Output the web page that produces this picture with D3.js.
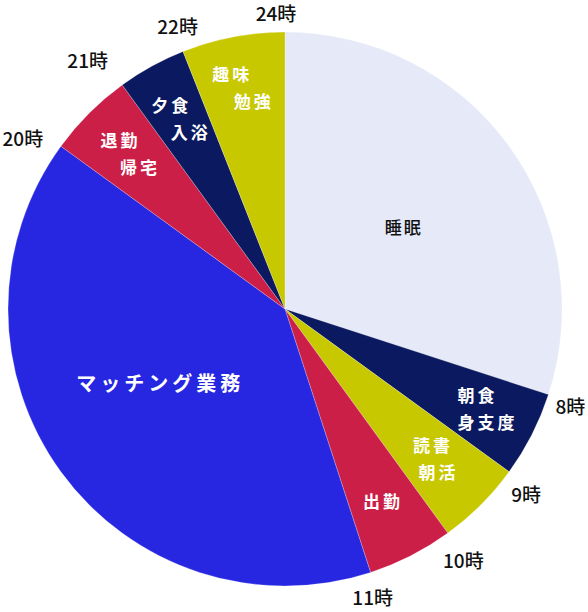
<!DOCTYPE html>
<html lang="ja">
<head>
<meta charset="utf-8">
<script src="https://cdn.jsdelivr.net/npm/d3@7"></script>
<style>
  body { margin: 0; background: #fff; }
  text { font-family: "Noto Sans CJK JP", "Noto Sans", sans-serif; }
</style>
</head>
<body>
<div id="chart"></div>
<script>
// one day, split into activities (clockwise from midnight)
const activities = [['睡眠'], ['朝食', '身支度'], ['読書', '朝活'], ['出勤'],
    ['マッチング業務'], ['退勤', '帰宅'], ['夕食', '入浴'], ['趣味', '勉強']];
const weights = [6, 1, 1, 1, 8, 1, 0.8, 1.2];
const endLabels = ['8時', '9時', '10時', '11時', '20時', '21時', '22時', '24時'];
const colors = ['#e6e9f8', '#0b1a60', '#c8c800', '#cc1f48', '#2727e2', '#cc1f48', '#0b1a60', '#c8c800'];

const width = 588;
const height = 612;
const cx = 285, cy = 309;
const radius = 277;

// label layout: radial position (fraction of radius), angle shift (deg) and shift between lines
const labelRadius = [0.52, 0.8, 0.77, 0.78, 0.525, 0.79, 0.78, 0.81];
const labelTurn = [1.5, 0, 0, 0, 5, 0, 0, 0];
const lineStagger = [0, 10, 5.5, 0, 0, 19.5, 19.5, 21.5];
// nudges for the hour labels around the slice ends
const hourNudge = [[0, 5], [-1.5, 9.5], [2, 9], [-5, 4], [-19.5, 6], [-21, -5], [3, -3], [-9, 5]];

const svg = d3.select('#chart')
    .append('svg')
    .attr('width', width)
    .attr('height', height);

const g = svg.append('g')
    .attr('transform', `translate(${cx},${cy})`);

const pie = d3.pie()
    .sort(null)
    .value(d => d);

const slices = pie(weights);

const arc = d3.arc()
    .innerRadius(0)
    .outerRadius(radius);

g.selectAll('path')
    .data(slices)
    .enter().append('path')
    .attr('d', arc)
    .attr('fill', (d, i) => colors[i])
    .attr('stroke', '#fff')
    .attr('stroke-opacity', 0.4)
    .attr('stroke-width', 0.6);

// labels inside the slices
const inner = g.selectAll('g.inner')
    .data(slices)
    .enter().append('g')
    .attr('class', 'inner')
    .attr('transform', (d, i) => {
        const a = (d.startAngle + d.endAngle) / 2 + labelTurn[i] * Math.PI / 180;
        const r = radius * labelRadius[i];
        return `translate(${Math.sin(a) * r},${-Math.cos(a) * r})`;
    });

inner.each(function (d, i) {
    const lines = activities[i];
    const n = lines.length;
    const big = i === 4;
    d3.select(this).selectAll('text')
        .data(lines)
        .enter().append('text')
        .attr('x', (t, j) => n > 1 ? (j - (n - 1) / 2) * lineStagger[i] : 0)
        .attr('y', (t, j) => (j - (n - 1) / 2) * 27)
        .attr('dy', '0.36em')
        .attr('text-anchor', 'middle')
        .style('font-size', big ? '20px' : '17px')
        .style('font-weight', i === 0 ? 500 : 700)
        .style('letter-spacing', big ? '4px' : (i === 0 ? '2px' : '3px'))
        .style('fill', i === 0 ? '#111' : '#fff')
        .text(t => t);
});

// hour labels at the end of each slice
const outerR = 300;
g.selectAll('text.hour')
    .data(slices)
    .enter().append('text')
    .attr('class', 'hour')
    .attr('x', (d, i) => Math.sin(d.endAngle) * outerR + hourNudge[i][0])
    .attr('y', (d, i) => -Math.cos(d.endAngle) * outerR + hourNudge[i][1])
    .attr('dy', '0.36em')
    .attr('text-anchor', 'middle')
    .style('font-size', '19px')
    .style('font-weight', 500)
    .style('fill', '#111')
    .text((d, i) => endLabels[i]);
</script>
</body>
</html>
